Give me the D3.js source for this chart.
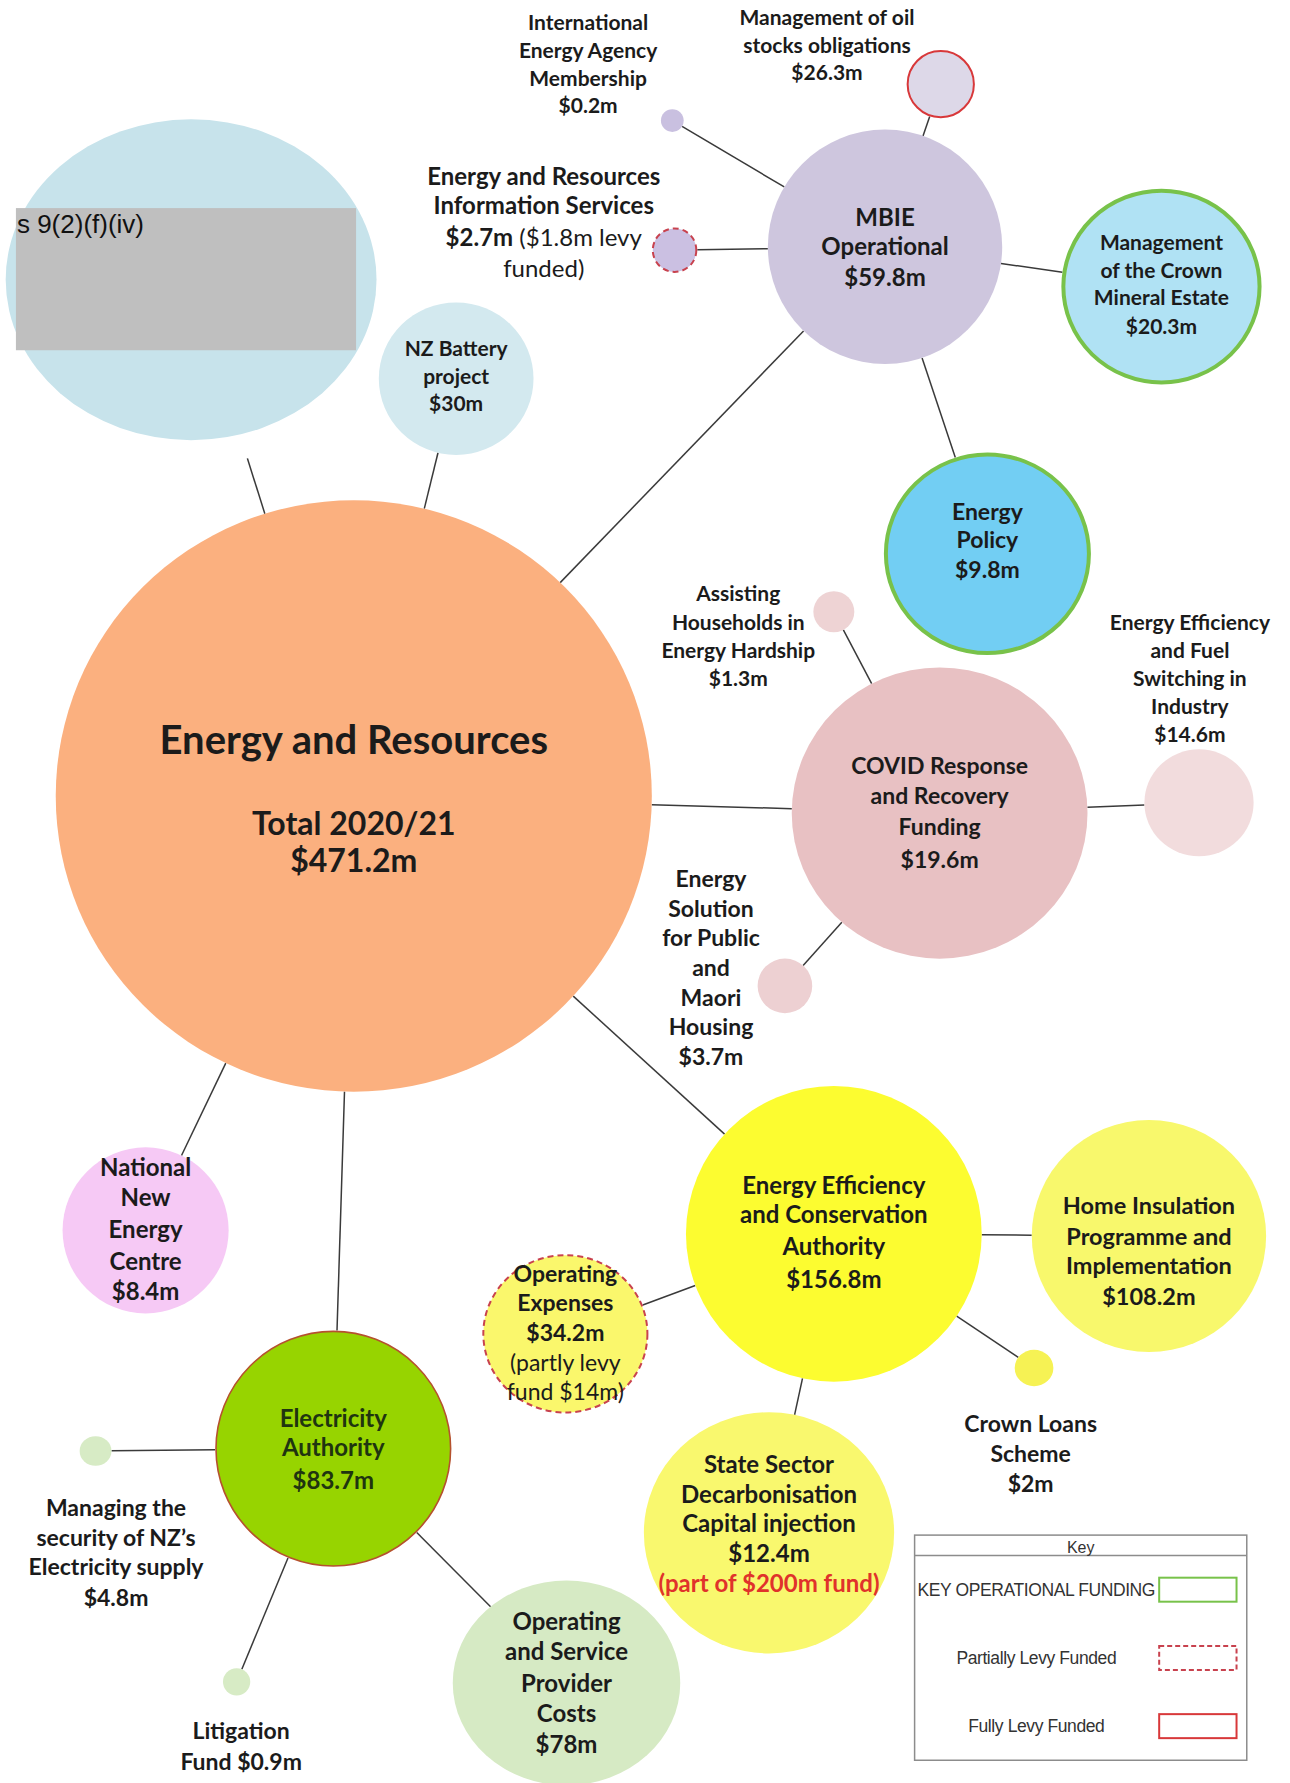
<!DOCTYPE html>
<html>
<head>
<meta charset="utf-8">
<script src="https://cdn.jsdelivr.net/npm/d3@7"></script>
<style>
  body { margin: 0; background: #fff; }
  svg { display: block; }
</style>
</head>
<body>
<div id="chart"></div>
<script>
// Data
//= ================================
var ids = ["total", "redacted", "battery", "mbie", "iea", "oil", "eris", "crown", "policy",
    "covid", "hardship", "fuel", "housing", "eeca", "home", "loans", "state", "opex",
    "nnec", "ea", "security", "litigation", "provider"];

var parents = [null, "total", "total", "total", "mbie", "mbie", "mbie", "mbie", "mbie",
    "total", "covid", "covid", "covid", "total", "eeca", "eeca", "eeca", "eeca",
    "total", "total", "ea", "ea", "ea"];

var titles = [
    ["Energy and Resources", "Total 2020/21"],
    ["s 9(2)(f)(iv)"],
    ["NZ Battery", "project"],
    ["MBIE", "Operational"],
    ["International", "Energy Agency", "Membership"],
    ["Management of oil", "stocks obligations"],
    ["Energy and Resources", "Information Services"],
    ["Management", "of the Crown", "Mineral Estate"],
    ["Energy", "Policy"],
    ["COVID Response", "and Recovery", "Funding"],
    ["Assisting", "Households in", "Energy Hardship"],
    ["Energy Efficiency", "and Fuel", "Switching in", "Industry"],
    ["Energy", "Solution", "for Public", "and", "Maori", "Housing"],
    ["Energy Efficiency", "and Conservation", "Authority"],
    ["Home Insulation", "Programme and", "Implementation"],
    ["Crown Loans", "Scheme"],
    ["State Sector", "Decarbonisation", "Capital injection"],
    ["Operating", "Expenses"],
    ["National", "New", "Energy", "Centre"],
    ["Electricity", "Authority"],
    ["Managing the", "security of NZ’s", "Electricity supply"],
    ["Litigation", "Fund"],
    ["Operating", "and Service", "Provider", "Costs"]
];

// $m, 2020/21
var amounts = [471.2, null, 30, 59.8, 0.2, 26.3, 2.7, 20.3, 9.8, 19.6, 1.3, 14.6, 3.7,
    156.8, 108.2, 2, 12.4, 34.2, 8.4, 83.7, 4.8, 0.9, 78];

var notes = {
    eris: ["($1.8m levy", "funded)"],
    opex: ["(partly levy", "fund $14m)"],
    state: ["(part of $200m fund)"]
};

var funding = {crown: "key", policy: "key", eris: "partial", opex: "partial", oil: "full", ea: "full"};

var legendKeys = ["key", "partial", "full"];
var legendLabels = ["KEY OPERATIONAL FUNDING", "Partially Levy Funded", "Fully Levy Funded"];

// Layout (reference units, 1134 x 1568) and styles
//= ================================
var layout = {
    total:      {cx: 311, cy: 700, rx: 262, ry: 260, fill: "#fbb07f", ty: [650, 724, 757], fs: [40, 32, 32]},
    redacted:   {cx: 168, cy: 246, rx: 163, ry: 141, fill: "#c7e3eb", gap: 22},
    battery:    {cx: 401, cy: 333, rx: 68, ry: 67, fill: "#d3e9ef", ty: [306, 331, 355], fs: 21},
    mbie:       {cx: 778, cy: 217, rx: 103, ry: 103, fill: "#cec6de", ty: [191, 217, 244], fs: 24},
    iea:        {cx: 591, cy: 106, rx: 10, ry: 10, fill: "#c9c0e0", tx: 517, ty: [20, 44, 69, 93], fs: 21},
    oil:        {cx: 827, cy: 74, rx: 30, ry: 30, fill: "#ddd8e8", tx: 727, ty: [15, 40, 64], fs: 21},
    eris:       {cx: 593, cy: 220, rx: 20, ry: 20, fill: "#cbc0e2", tx: 478, ty: [155, 181, 209, 236], fs: 24, noteInline: true},
    crown:      {cx: 1021, cy: 252, rx: 88, ry: 86, fill: "#b0e2f4", ty: [213, 238, 262, 287], fs: 21},
    policy:     {cx: 868, cy: 487, rx: 91, ry: 89, fill: "#72cef3", ty: [450, 475, 501], fs: 23},
    covid:      {cx: 826, cy: 715, rx: 130, ry: 128, fill: "#e8c1c3", ty: [673, 700, 727, 756], fs: 23},
    hardship:   {cx: 733, cy: 538, rx: 18, ry: 18, fill: "#eed3d4", tx: 649, ty: [522, 547, 572, 597], fs: 21},
    fuel:       {cx: 1054, cy: 706, rx: 48, ry: 47, fill: "#f2dcdd", tx: 1046, ty: [547, 572, 597, 621, 646], fs: 21},
    housing:    {cx: 690, cy: 867, rx: 24, ry: 24, fill: "#edd0d2", tx: 625, ty: [773, 799, 825, 851, 877, 903, 929], fs: 23},
    eeca:       {cx: 733, cy: 1085, rx: 130, ry: 130, fill: "#fcfc30", ty: [1042, 1068, 1096, 1125], fs: 24},
    home:       {cx: 1010, cy: 1087, rx: 103, ry: 102, fill: "#f8f86c", ty: [1060, 1087, 1113, 1140], fs: 23.5},
    loans:      {cx: 909, cy: 1203, rx: 17, ry: 16, fill: "#f6f254", tx: 906, ty: [1252, 1278, 1305], fs: 23},
    state:      {cx: 676, cy: 1348, rx: 110, ry: 106, fill: "#f9f86e", ty: [1288, 1314, 1340, 1366, 1392], fs: 24, noteColor: "#e0322b"},
    opex:       {cx: 497, cy: 1173, rx: 73, ry: 70, fill: "#faf76c", ty: [1120, 1146, 1172, 1198, 1224], fs: 23, noteWeight: 400},
    nnec:       {cx: 128, cy: 1082, rx: 73, ry: 73, fill: "#f6c9f5", ty: [1027, 1053, 1081, 1109, 1136], fs: 24},
    ea:         {cx: 293, cy: 1274, rx: 104, ry: 104, fill: "#97d400", ty: [1247, 1273, 1302], fs: 24, color: "#1f3510"},
    security:   {cx: 84, cy: 1276, rx: 14, ry: 13, fill: "#d7ebc5", tx: 102, ty: [1326, 1352, 1378, 1405], fs: 23},
    litigation: {cx: 208, cy: 1479, rx: 12, ry: 12, fill: "#d7ebc5", tx: 212, ty: [1522, 1549], fs: 23, amountInline: true},
    provider:   {cx: 498, cy: 1480, rx: 100, ry: 90, fill: "#d6eac4", ty: [1426, 1452, 1480, 1507, 1534], fs: 24}
};

var fundingStyle = {
    key: {stroke: "#78c24a", width: 4, dash: null},
    partial: {stroke: "#c8424e", width: 2, dash: "6,4"},
    full: {stroke: "#d8383a", width: 2, dash: null}
};
var strokeOverride = {ea: {stroke: "#b5512e", width: 1.6}};

// Setup the chart
//= ================================
var svgWidth = 1290;
var svgHeight = 1783;

var svg = d3.select("#chart")
    .append("svg")
    .attr("width", svgWidth)
    .attr("height", svgHeight);

var xScale = d3.scaleLinear().domain([0, 1134]).range([0, svgWidth]);
var yScale = d3.scaleLinear().domain([0, 1568]).range([0, svgHeight]);
var rScale = d3.scaleLinear().domain([0, 1134]).range([0, svgWidth]);

var nodes = ids.map(function (id, i) {
    var l = layout[id];
    return {
        id: id,
        parent: parents[i],
        titles: titles[i],
        amount: amounts[i],
        notes: notes[id] || [],
        funding: funding[id] || null,
        cx: xScale(l.cx), cy: yScale(l.cy), rx: rScale(l.rx), ry: rScale(l.ry),
        l: l
    };
});
var byId = {};
nodes.forEach(function (d) { byId[d.id] = d; });

// distance from centre to the edge of the ellipse along (ux, uy)
function edge(d, ux, uy) {
    return 1 / Math.sqrt((ux / d.rx) * (ux / d.rx) + (uy / d.ry) * (uy / d.ry));
}

// Links
var links = nodes.filter(function (d) { return d.parent; }).map(function (d) {
    var p = byId[d.parent];
    var dx = p.cx - d.cx, dy = p.cy - d.cy;
    var len = Math.sqrt(dx * dx + dy * dy);
    var ux = dx / len, uy = dy / len;
    var a = edge(d, ux, uy) + rScale(d.l.gap || 0);
    var b = edge(p, ux, uy);
    return {x1: d.cx + ux * a, y1: d.cy + uy * a, x2: p.cx - ux * b, y2: p.cy - uy * b};
});

svg.append("g").selectAll("line")
    .data(links)
    .enter()
    .append("line")
    .attr("x1", d => d.x1).attr("y1", d => d.y1)
    .attr("x2", d => d.x2).attr("y2", d => d.y2)
    .attr("stroke", "#3a3a3a")
    .attr("stroke-width", 1.5);

// Circles
svg.append("g").selectAll("ellipse")
    .data(nodes)
    .enter()
    .append("ellipse")
    .attr("cx", d => d.cx)
    .attr("cy", d => d.cy)
    .attr("rx", d => d.rx - (d.funding ? fundingStyle[d.funding].width / 2 : 0))
    .attr("ry", d => d.ry - (d.funding ? fundingStyle[d.funding].width / 2 : 0))
    .attr("fill", d => d.l.fill)
    .attr("stroke", d => strokeOverride[d.id] ? strokeOverride[d.id].stroke : (d.funding ? fundingStyle[d.funding].stroke : "none"))
    .attr("stroke-width", d => strokeOverride[d.id] ? strokeOverride[d.id].width : (d.funding ? fundingStyle[d.funding].width : 0))
    .attr("stroke-dasharray", d => d.funding ? fundingStyle[d.funding].dash : null);

// Redaction box
var red = byId.redacted;
svg.append("rect")
    .attr("x", xScale(14)).attr("y", yScale(183))
    .attr("width", xScale(313) - xScale(14))
    .attr("height", yScale(308) - yScale(183))
    .attr("fill", "#bfbfbf");
svg.append("text")
    .attr("x", xScale(14) + 1)
    .attr("y", yScale(197) + 9)
    .attr("font-family", "'Liberation Sans', Arial, sans-serif")
    .attr("font-size", 26)
    .attr("fill", "#111")
    .text(red.titles[0]);

// Labels
function fmt(v) { return "$" + v + "m"; }

function labelLines(d) {
    var l = d.l;
    var lines = d.titles.map(t => [{t: t, w: 700}]);
    if (d.id === "total") {
        lines.push([{t: fmt(d.amount), w: 700}]);
        return lines;
    }
    if (l.amountInline) {
        lines[lines.length - 1].push({t: " " + fmt(d.amount), w: 700});
    } else {
        lines.push([{t: fmt(d.amount), w: 700}]);
    }
    d.notes.forEach(function (n, i) {
        var seg = {t: n, w: l.noteWeight || (l.noteColor ? 700 : 400), c: l.noteColor};
        if (l.noteInline && i === 0) {
            seg.t = " " + n;
            lines[lines.length - 1].push(seg);
        } else {
            lines.push([seg]);
        }
    });
    return lines;
}

var labelGroup = svg.append("g")
    .attr("font-family", "Lato, 'Open Sans', sans-serif")
    .attr("text-anchor", "middle");

nodes.filter(d => d.id !== "redacted").forEach(function (d) {
    var l = d.l;
    var tx = xScale(l.tx !== undefined ? l.tx : l.cx);
    labelLines(d).forEach(function (segs, i) {
        var fs = Array.isArray(l.fs) ? l.fs[i] : l.fs;
        var t = labelGroup.append("text")
            .attr("x", tx)
            .attr("y", yScale(l.ty[i]) + fs * 0.36)
            .attr("font-size", fs)
            .attr("fill", l.color || "#1b1b1b");
        segs.forEach(function (s) {
            t.append("tspan")
                .attr("font-weight", s.w)
                .attr("fill", s.c || null)
                .text(s.t);
        });
    });
});

// Key
var key = svg.append("g")
    .attr("font-family", "'Liberation Sans', Arial, sans-serif");

key.append("rect")
    .attr("x", xScale(804)).attr("y", yScale(1350))
    .attr("width", xScale(1096) - xScale(804))
    .attr("height", yScale(1548) - yScale(1350))
    .attr("fill", "#fff")
    .attr("stroke", "#8c8c8c")
    .attr("stroke-width", 1.5);
key.append("line")
    .attr("x1", xScale(804)).attr("x2", xScale(1096))
    .attr("y1", yScale(1368)).attr("y2", yScale(1368))
    .attr("stroke", "#8c8c8c")
    .attr("stroke-width", 1.5);
key.append("text")
    .attr("x", xScale(950)).attr("y", yScale(1361) + 5.5)
    .attr("text-anchor", "middle")
    .attr("font-size", 16)
    .attr("fill", "#333")
    .text("Key");

var keyY = d3.scalePoint().domain(legendKeys).range([yScale(1398), yScale(1518)]);

var rows = key.selectAll("g.row")
    .data(legendKeys)
    .enter()
    .append("g")
    .attr("class", "row");

rows.append("text")
    .attr("x", xScale(911))
    .attr("y", d => keyY(d) + 6)
    .attr("text-anchor", "middle")
    .attr("font-size", 17.5)
    .attr("letter-spacing", -0.4)
    .attr("fill", "#333")
    .text((d, i) => legendLabels[i]);

rows.append("rect")
    .attr("x", xScale(1019))
    .attr("y", d => keyY(d) - 12)
    .attr("width", xScale(1087) - xScale(1019))
    .attr("height", 24)
    .attr("fill", "#fff")
    .attr("stroke", d => fundingStyle[d].stroke)
    .attr("stroke-width", 2)
    .attr("stroke-dasharray", d => d === "partial" ? "5,3" : null);
</script>
</body>
</html>
